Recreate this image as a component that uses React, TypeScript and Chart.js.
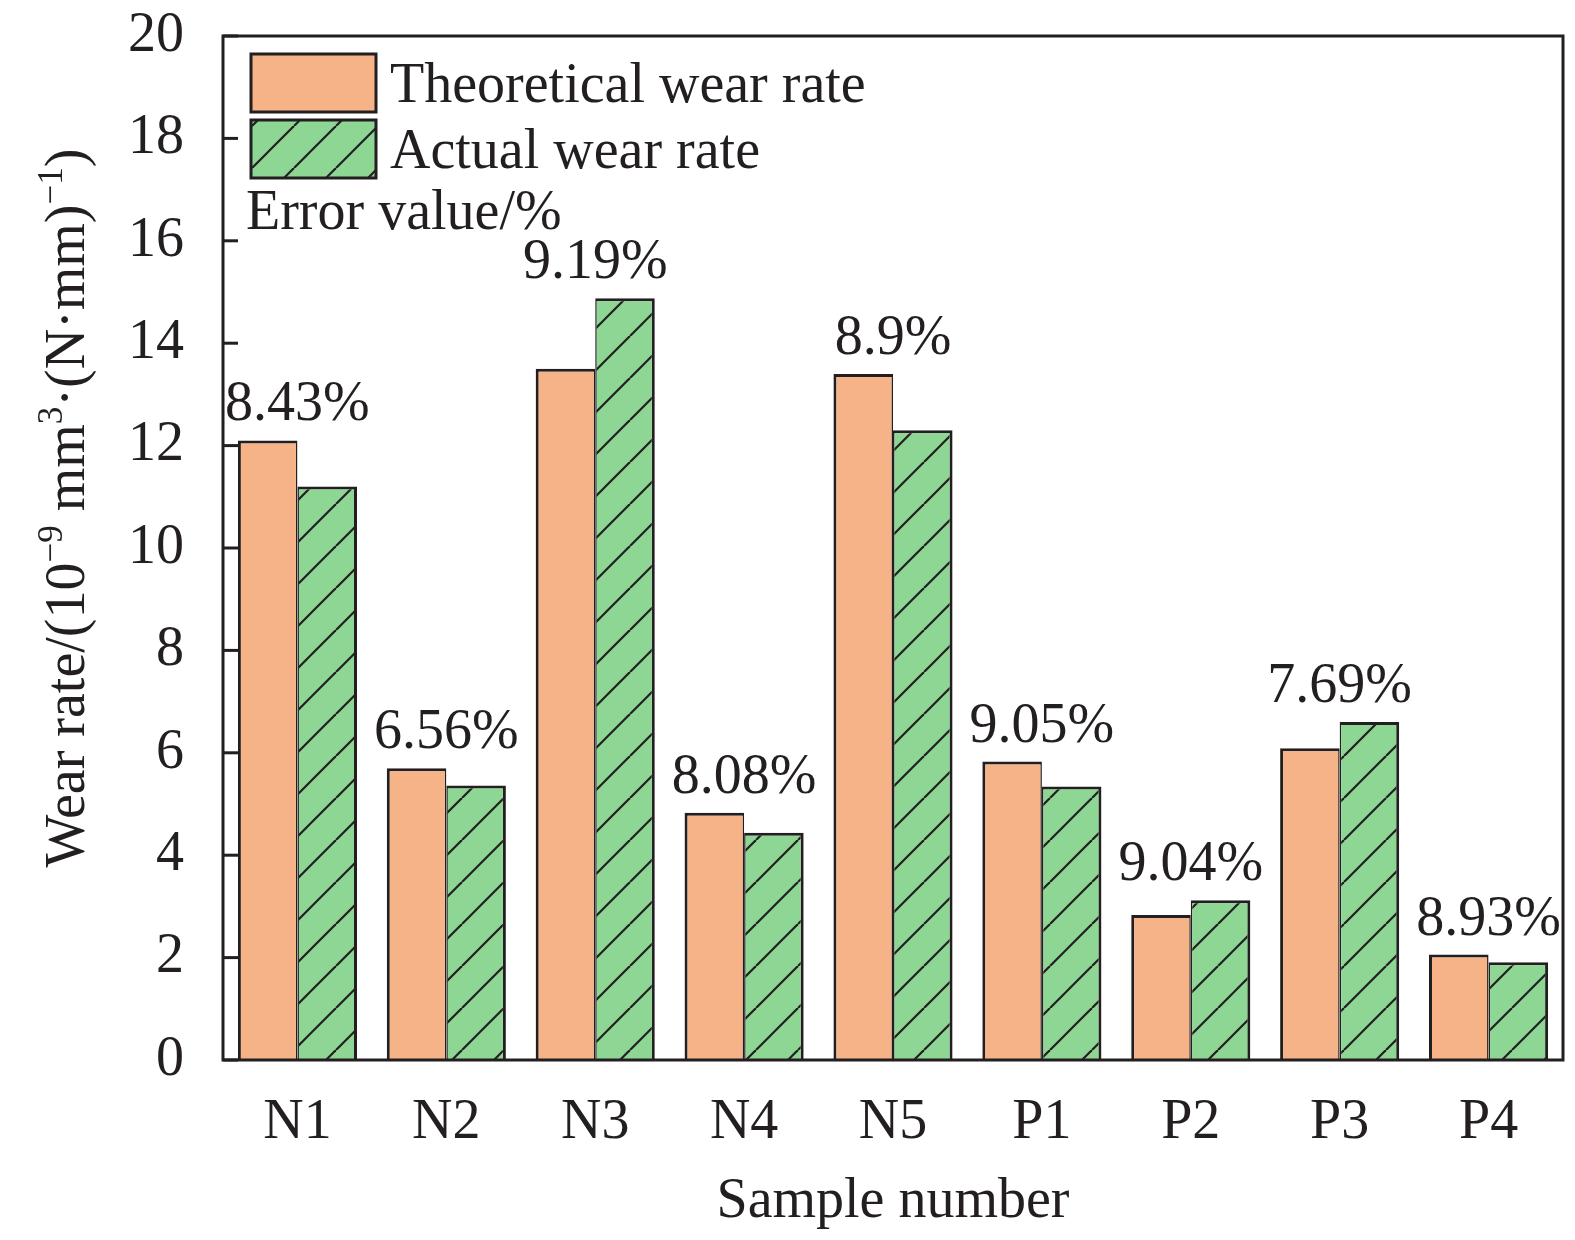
import React, { useEffect, useRef } from 'react';
import { Chart, registerables } from 'chart.js';

Chart.register(...registerables);

const categories = ['N1', 'N2', 'N3', 'N4', 'N5', 'P1', 'P2', 'P3', 'P4'];
const theoreticalWearRate = [12.1, 5.7, 13.5, 4.83, 13.4, 5.83, 2.83, 6.09, 2.06];
const actualWearRate = [11.2, 5.36, 14.88, 4.44, 12.3, 5.34, 3.12, 6.6, 1.91];
const errorLabels = ['8.43%', '6.56%', '9.19%', '8.08%', '8.9%', '9.05%', '9.04%', '7.69%', '8.93%'];
const seriesNames = ['Theoretical wear rate', 'Actual wear rate'];
const errorTitle = 'Error value/%';
const xTitle = 'Sample number';
const yTitleParts: [string, boolean][] = [
  ['Wear rate/(10', false],
  ['\u22129', true],
  [' mm', false],
  ['3', true],
  ['\u00B7(N\u00B7mm)', false],
  ['\u22121', true],
  [')', false],
];
const yMin = 0;
const yMax = 20;
const yStep = 2;

const INK = '#231f20';
const ORANGE = '#f6b387';
const GREEN = '#8ed694';
const FONT = '"Liberation Serif", "Times New Roman", Times, serif';
const FS = 56;

function makeHatch(): CanvasPattern | string {
  const s = 42;
  const c = document.createElement('canvas');
  c.width = s;
  c.height = s;
  const g = c.getContext('2d');
  if (!g) return GREEN;
  g.fillStyle = GREEN;
  g.fillRect(0, 0, s, s);
  g.strokeStyle = INK;
  g.lineWidth = 2.2;
  for (let k = -1; k <= 1; k++) {
    g.beginPath();
    g.moveTo(k * s, s);
    g.lineTo(k * s + s, 0);
    g.stroke();
  }
  const p = g.createPattern(c, 'repeat');
  return p || GREEN;
}

export default function App() {
  const ref = useRef<HTMLCanvasElement | null>(null);

  useEffect(() => {
    if (!ref.current) return;
    const hatch = makeHatch();

    const overlay = {
      id: 'overlay',
      afterDatasetsDraw(chart: any) {
        const { ctx, chartArea: a, scales } = chart;
        const xs = scales.x;
        const ys = scales.y;
        ctx.save();
        ctx.fillStyle = INK;
        ctx.font = `${FS}px ${FONT}`;
        ctx.textAlign = 'center';
        ctx.textBaseline = 'alphabetic';
        categories.forEach((_, i) => {
          const top = Math.max(theoreticalWearRate[i], actualWearRate[i]);
          ctx.fillText(errorLabels[i], xs.getPixelForValue(i), ys.getPixelForValue(top) - 20);
        });

        // frame
        ctx.strokeStyle = INK;
        ctx.lineWidth = 3;
        ctx.strokeRect(a.left, a.top, a.right - a.left, a.bottom - a.top);
        // inward ticks on the left axis
        ys.ticks.forEach((t: any) => {
          const py = ys.getPixelForValue(t.value);
          ctx.beginPath();
          ctx.moveTo(a.left, py);
          ctx.lineTo(a.left + 15, py);
          ctx.stroke();
        });

        // legend
        const bx = a.left + 28;
        const bw = 125;
        const bh = 58;
        const fills = [ORANGE, hatch];
        const boxTops = [a.top + 18, a.top + 84];
        ctx.textAlign = 'left';
        chart.data.datasets.forEach((ds: any, i: number) => {
          ctx.fillStyle = fills[i];
          ctx.fillRect(bx, boxTops[i], bw, bh);
          ctx.lineWidth = 3;
          ctx.strokeStyle = INK;
          ctx.strokeRect(bx, boxTops[i], bw, bh);
          ctx.fillStyle = INK;
          ctx.fillText(ds.label, a.left + 167, boxTops[i] + 48);
        });
        ctx.fillText(errorTitle, a.left + 23, a.top + 193);

        // x title
        ctx.textAlign = 'center';
        ctx.fillText(xTitle, (a.left + a.right) / 2, a.bottom + 157);

        // y title with superscripts
        const supFS = Math.round(FS * 0.62);
        let total = 0;
        const widths = yTitleParts.map(([t, sup]) => {
          ctx.font = `${sup ? supFS : FS}px ${FONT}`;
          const w = ctx.measureText(t).width;
          total += w;
          return w;
        });
        ctx.translate(84, a.top + 472);
        ctx.rotate(-Math.PI / 2);
        ctx.textAlign = 'left';
        let cx = -total / 2;
        yTitleParts.forEach(([t, sup], i) => {
          ctx.font = `${sup ? supFS : FS}px ${FONT}`;
          ctx.fillText(t, cx, sup ? -22 : 0);
          cx += widths[i];
        });
        ctx.restore();
      },
    };

    const chart = new Chart(ref.current, {
      type: 'bar',
      data: {
        labels: categories,
        datasets: [
          {
            label: seriesNames[0],
            data: theoreticalWearRate,
            backgroundColor: ORANGE,
            borderColor: INK,
            borderWidth: { left: 3, top: 3, right: 1.5, bottom: 0 },
            borderSkipped: false,
          },
          {
            label: seriesNames[1],
            data: actualWearRate,
            backgroundColor: hatch as any,
            borderColor: INK,
            borderWidth: { left: 1.5, top: 3, right: 3, bottom: 0 },
            borderSkipped: false,
          },
        ],
      },
      options: {
        responsive: false,
        animation: false,
        devicePixelRatio: 1,
        layout: { padding: { top: 36, right: 12, left: 0, bottom: 0 } },
        datasets: { bar: { categoryPercentage: 0.8, barPercentage: 1 } },
        plugins: {
          legend: { display: false },
          tooltip: { enabled: false },
          title: { display: false },
        },
        scales: {
          x: {
            grid: { display: false, drawTicks: false },
            border: { display: false },
            ticks: {
              color: INK,
              font: { family: FONT, size: FS },
              padding: 30,
              maxRotation: 0,
              autoSkip: false,
            },
            afterFit: (s: any) => {
              s.height = 180;
              s.paddingLeft = 0;
              s.paddingRight = 0;
            },
          },
          y: {
            min: yMin,
            max: yMax,
            grid: { display: false, drawTicks: false },
            border: { display: false },
            ticks: {
              stepSize: yStep,
              color: INK,
              font: { family: FONT, size: FS },
              padding: 39,
            },
            afterFit: (s: any) => {
              s.width = 223;
              s.paddingTop = 0;
              s.paddingBottom = 0;
            },
          },
        },
      },
      plugins: [overlay],
    });
    return () => chart.destroy();
  }, []);

  return (
    <div style={{ position: 'absolute', left: 0, top: 0, width: 1575, height: 1240, background: '#fff' }}>
      <canvas ref={ref} width={1575} height={1240} />
    </div>
  );
}
